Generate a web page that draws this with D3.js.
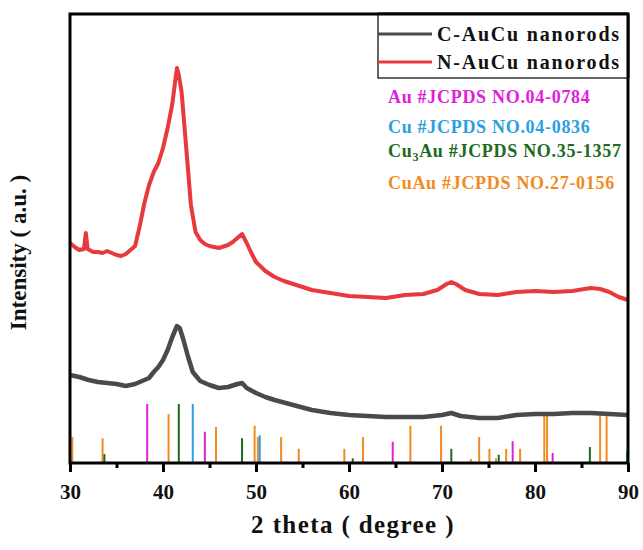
<!DOCTYPE html>
<html>
<head>
<meta charset="utf-8">
<script src="https://cdn.jsdelivr.net/npm/d3@7"></script>
<style>
  body { margin: 0; background: #fff; }
</style>
</head>
<body>
<div id="xrd"></div>
<script>
// measured curves (2 theta, intensity a.u.)
var theta = [30,30.5,31,31.5,31.7,31.9,32.5,33,33.5,34,34.5,35,35.5,36,36.5,37,37.5,38,38.5,39,39.5,40,40.5,41,41.3,41.5,41.7,42,42.5,43,43.5,44,44.5,45,46,47,47.5,48,48.5,49,49.5,50,51,52,53,54,55,56,58,60,62,64,66,68,69.5,70.5,71,71.5,72.5,74,76,78,80,82,84,86,87,88,89,90];
var nAuCu = [220,216,213,214,230,214,211,211,210,212,210,208,207,209,213,217,237,260,278,291,300,315,335,359,381,395,388,371,315,258,231,223,219,217,215,218,221,225,229,220,210,201,192,186,182,179,176,173,170,167,166,165,168,169,173,179,181,179,173,169,168,171,172,171,172,175,174,171,166,163];

var thetaC = [30,31,32,33,34,35,36,37,38,38.5,39,39.5,40,40.5,41,41.5,41.8,42.2,42.7,43.2,44,45,46,47,48,48.5,49,50,51,52,54,56,58,60,62,64,66,68,70,71,72,74,76,78,80,82,84,86,88,90];
var cAuCu = [88,86,83,81,80,79,77,79,83,85,91,96,103,113,126,137,135,123,106,91,82,78,75,76,79,80,75,70,66,63,58,53,50,48,47,46,46,46,48,50,47,45,45,48,49,49,50,50,49,48];

// reference cards: position (2 theta) and relative intensity
var auPos = [38.3,44.5,64.7,77.6,81.9];
var auInt = [100,53,36,37,17];
var cuPos = [43.2,50.4,89.9];
var cuInt = [100,47,20];
var cu3auPos = [33.7,41.7,48.5,60.4,71.0,76.1,85.9];
var cu3auInt = [15,100,42,8,24,14,27];
var cuauPos = [30.25,33.5,40.6,45.7,49.85,50.2,52.7,54.6,59.5,61.5,66.6,69.9,73.1,74.0,75.1,75.8,76.9,78.4,81.0,81.3,87.0,87.7];
var cuauInt = [44,42,83,61,63,44,44,24,24,44,63,63,7,44,24,8,24,24,83,83,83,83];

var majorTicks = [30,40,50,60,70,80,90];
var minorTicks = [35,45,55,65,75,85];

var FONT = "'Liberation Serif', 'Times New Roman', serif";

var W = 643, H = 550;
var margin = {top: 14, right: 15, bottom: 87, left: 70};
var width = W - margin.left - margin.right,
    height = H - margin.top - margin.bottom;

var svg = d3.select("#xrd").append("svg")
    .attr("width", W).attr("height", H)
  .append("g")
    .attr("transform", "translate(" + margin.left + "," + margin.top + ")");

var x = d3.scaleLinear().domain([30, 90]).range([0, width]);
var y = d3.scaleLinear().domain([0, 449]).range([height, 0]);
// stick heights of the cards
var ys = d3.scaleLinear().domain([0, 100]).range([height, height - 59]);

// reference sticks
function sticks(pos, ints, color, w) {
  svg.append("g").selectAll("line")
      .data(pos.map(function(p, i) { return {p: p, v: ints[i]}; }))
    .enter().append("line")
      .attr("x1", function(d) { return x(d.p); })
      .attr("x2", function(d) { return x(d.p); })
      .attr("y1", ys(0))
      .attr("y2", function(d) { return ys(d.v); })
      .attr("stroke", color)
      .attr("stroke-width", w);
}
sticks(cuauPos, cuauInt, "#f28a22", 2);
sticks(cu3auPos, cu3auInt, "#1d6a1d", 2);
sticks(auPos, auInt, "#e020dc", 2);
sticks(cuPos, cuInt, "#2b9fe0", 2);

// curves
var line = d3.line()
    .x(function(d) { return x(d[0]); })
    .y(function(d) { return y(d[1]); });

svg.append("path")
    .datum(thetaC.map(function(t, i) { return [t, cAuCu[i]]; }))
    .attr("d", line)
    .attr("fill", "none")
    .attr("stroke", "#4a4a4a")
    .attr("stroke-width", 4.5)
    .attr("stroke-linejoin", "round");

svg.append("path")
    .datum(theta.map(function(t, i) { return [t, nAuCu[i]]; }))
    .attr("d", line)
    .attr("fill", "none")
    .attr("stroke", "#e83a3c")
    .attr("stroke-width", 4)
    .attr("stroke-linejoin", "round");

// x axis with major + minor ticks
var xaxis = d3.axisBottom(x).tickValues(majorTicks).tickSize(9).tickPadding(12).tickFormat(d3.format("d"));
var gx = svg.append("g").attr("class", "xaxis")
    .attr("transform", "translate(0," + height + ")")
    .call(xaxis);
gx.select(".domain").remove();
gx.selectAll(".tick line").attr("stroke", "#000").attr("stroke-width", 3);
gx.selectAll(".tick text")
    .attr("font-size", "21px").attr("fill", "#111")
    .attr("font-family", FONT).attr("font-weight", "bold");

var gm = svg.append("g")
    .attr("transform", "translate(0," + height + ")")
    .call(d3.axisBottom(x).tickValues(minorTicks).tickSize(5).tickFormat(""));
gm.select(".domain").remove();
gm.selectAll(".tick line").attr("stroke", "#000").attr("stroke-width", 3);

// frame
svg.append("rect")
    .attr("x", 0).attr("y", 0)
    .attr("width", width).attr("height", height)
    .attr("fill", "none")
    .attr("stroke", "#000")
    .attr("stroke-width", 3);

// legend box
var lx = 308, lw = width - lx, lh = 64;
svg.append("rect")
    .attr("x", lx).attr("y", 0)
    .attr("width", lw).attr("height", lh)
    .attr("fill", "#fff")
    .attr("stroke", "#000")
    .attr("stroke-width", 1.2);
svg.append("line").attr("x1", lx).attr("x2", width).attr("y1", 0).attr("y2", 0)
    .attr("stroke", "#000").attr("stroke-width", 3);
svg.append("line").attr("x1", width).attr("x2", width).attr("y1", 0).attr("y2", lh)
    .attr("stroke", "#000").attr("stroke-width", 3);

var legend = [
  {name: "C-AuCu nanorods", color: "#4a4a4a"},
  {name: "N-AuCu nanorods", color: "#e83a3c"}
];
legend.forEach(function(d, i) {
  var yy = 20 + i * 28;
  svg.append("line")
      .attr("x1", lx).attr("x2", lx + 54)
      .attr("y1", yy).attr("y2", yy)
      .attr("stroke", d.color).attr("stroke-width", 3);
  svg.append("text")
      .attr("x", lx + 59).attr("y", yy + 7)
      .attr("font-family", FONT).attr("font-weight", "bold")
      .attr("font-size", "20px")
      .style("letter-spacing", "1.8px")
      .attr("fill", "#111")
      .text(d.name);
});

// card labels
var cards = [
  {name: "Au #JCPDS NO.04-0784", color: "#e020dc", yy: 89},
  {name: "Cu #JCPDS NO.04-0836", color: "#2b9fe0", yy: 119},
  {name: "Au #JCPDS NO.35-1357", color: "#1d6a1d", yy: 143, pre: "Cu", sub: "3"},
  {name: "CuAu #JCPDS NO.27-0156", color: "#f28a22", yy: 175}
];
cards.forEach(function(d) {
  var t = svg.append("text")
      .attr("x", 318).attr("y", d.yy)
      .attr("font-family", FONT).attr("font-weight", "bold")
      .attr("font-size", "18px")
      .style("letter-spacing", "0.7px")
      .attr("fill", d.color);
  if (d.sub) {
    t.append("tspan").text(d.pre);
    t.append("tspan").attr("dy", 4).attr("font-size", "12px").text(d.sub);
    t.append("tspan").attr("dy", -4).text(d.name);
  } else {
    t.text(d.name);
  }
});

// axis titles
svg.append("text")
    .attr("x", width / 2 + 4).attr("y", height + 70)
    .attr("text-anchor", "middle")
    .attr("font-family", FONT).attr("font-weight", "bold")
    .attr("font-size", "25px")
    .style("letter-spacing", "1.4px")
    .attr("fill", "#111")
    .text("2 theta ( degree )");

svg.append("text")
    .attr("transform", "translate(" + (-44) + "," + (height / 2 + 14) + ") rotate(-90)")
    .attr("text-anchor", "middle")
    .attr("font-family", FONT).attr("font-weight", "bold")
    .attr("font-size", "23px")
    .attr("fill", "#111")
    .text("Intensity ( a.u. )");
</script>
</body>
</html>
